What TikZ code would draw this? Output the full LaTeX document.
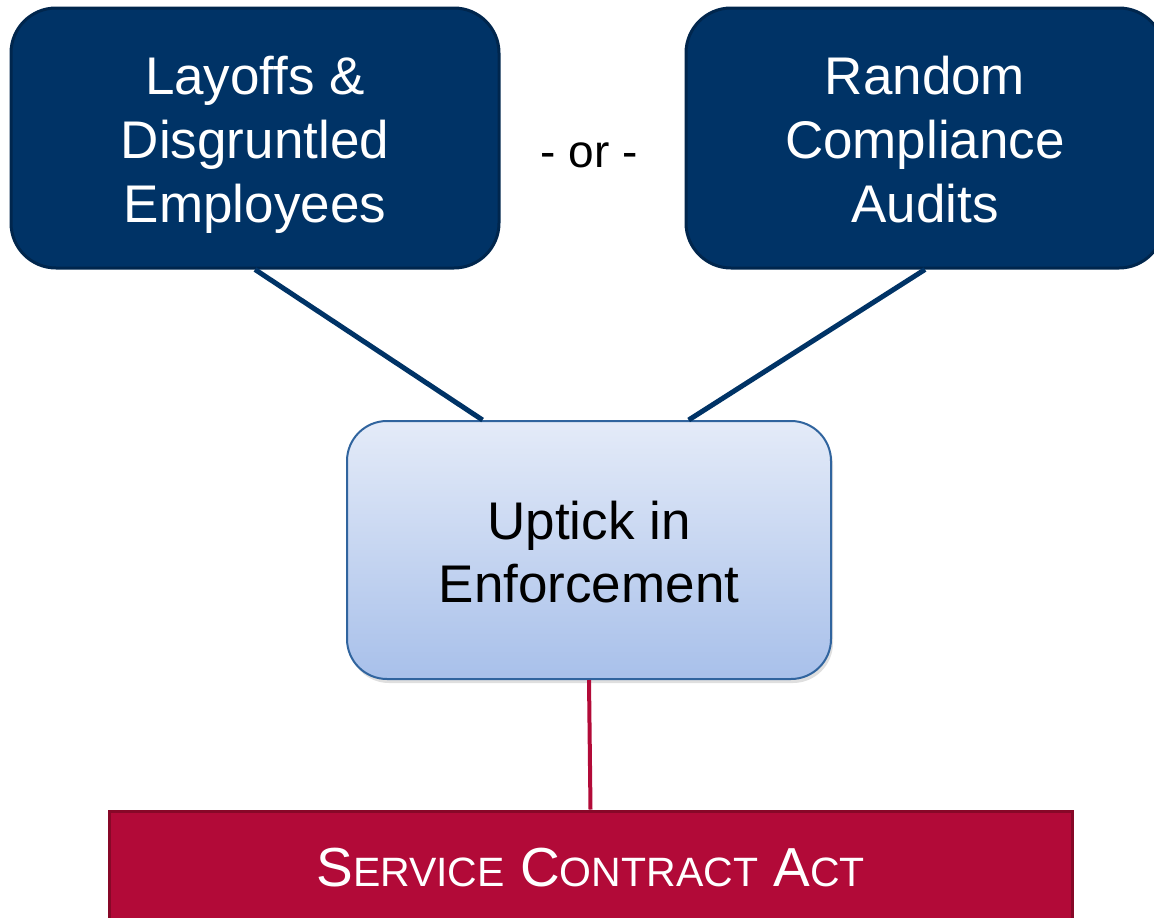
\documentclass[tikz,border=0pt]{standalone}
\usepackage{fontspec}
\setmainfont{Liberation Sans}
\usetikzlibrary{calc,shadows}
\definecolor{navy}{RGB}{0,51,102}
\definecolor{navyedge}{RGB}{0,38,77}
\definecolor{crimson}{RGB}{178,10,56}
\definecolor{crimsonedge}{RGB}{135,8,40}
\definecolor{lbtop}{RGB}{228,235,248}
\definecolor{lbbot}{RGB}{168,192,234}
\definecolor{lbedge}{RGB}{48,100,158}
\newcommand{\mysc}[1]{{\fontsize{41}{45}\selectfont #1}}
\begin{document}
\begin{tikzpicture}[x=1pt,y=-1pt,
  topbox/.style={rounded corners=45pt, fill=navy, draw=navyedge, line width=3pt,
    minimum width=488pt, minimum height=260pt, inner sep=0pt},
  toptext/.style={text=white, align=center, font=\fontsize{53}{64}\selectfont, inner sep=0pt},
  midbox/.style={rounded corners=40pt, top color=lbtop, bottom color=lbbot, draw=lbedge,
    line width=2pt, minimum width=484pt, minimum height=258pt, inner sep=0pt,
    drop shadow={shadow xshift=2pt, shadow yshift=-4pt, opacity=0.25}},
  midtext/.style={text=black, align=center, font=\fontsize{53}{63}\selectfont, inner sep=0pt},
  barbox/.style={fill=crimson, draw=crimsonedge, line width=3pt, minimum width=963pt,
    minimum height=114pt, text=white, inner sep=0pt, font=\fontsize{55}{60}\selectfont},
  navyline/.style={draw=navy, line width=5pt},
  redline/.style={draw=crimson, line width=4pt},
  plain/.style={text=black, font=\fontsize{46}{50}\selectfont, inner sep=0pt}]
\useasboundingbox (0,0) rectangle (1154,918);
\clip (0,0) rectangle (1154,918);
\node[topbox] (L) at (255,138) {};
\node[toptext] (Lt) at (255,145) {Layoffs \&\\Disgruntled\\Employees};
\node[topbox, minimum width=478pt] (R) at (925,138) {};
\node[toptext] (Rt) at (925,140) {Random\\Compliance\\Audits};
\node[plain] (or) at (589,155) {- or -};
\node[midbox] (M) at (589,550) {};
\node[midtext] (Mt) at (589,552) {Uptick in\\Enforcement};
\node[barbox] (B) at (590.5,868) {S\mysc{ERVICE} C\mysc{ONTRACT} A\mysc{CT}};
\draw[navyline] (L.south) -- ($(M.north west)!0.281!(M.north east)$);
\draw[navyline] (R.south) -- ($(M.north west)!0.705!(M.north east)$);
\draw[redline] (M.south) -- (B.north);
\end{tikzpicture}
\end{document}
